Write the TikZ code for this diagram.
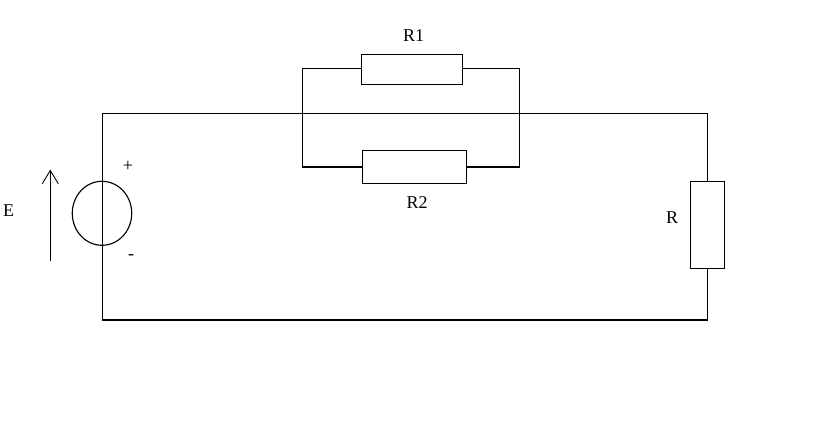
\documentclass[tikz,border=0pt]{standalone}
\usepackage{fontspec}
\setmainfont{Liberation Serif}
\usetikzlibrary{shapes.geometric, arrows.meta}
\tikzstyle{resistor} = [draw=black, line width=0.85pt, inner sep=0pt, outer sep=0pt]
\tikzstyle{source} = [ellipse, draw=black, line width=0.85pt, inner sep=0pt, outer sep=0pt, minimum width=44.6pt, minimum height=48pt]
\tikzstyle{wire} = [line width=0.85pt]
\tikzstyle{arrow} = [line width=0.85pt, -{Straight Barb[length=10pt, width=12pt, line width=0.7pt]}]
\tikzstyle{label} = [inner sep=0pt, font=\fontsize{13.5pt}{15pt}\selectfont]

\begin{document}
\begin{tikzpicture}[x=0.75pt, y=-0.75pt]
    \useasboundingbox (0,0) rectangle (814,443);
    % main loop
    \coordinate (topleft) at (102.3,113.3);
    \coordinate (topright) at (707.3,113.3);
    \coordinate (botright) at (707.3,320);
    \coordinate (botleft) at (102.3,320);
    \node[source] (E) at (102,213.3) {};
    \node[resistor, minimum width=25.5pt, minimum height=65.25pt] (R) at (707.3,224.8) {};
    \draw[wire] (botleft) -- (topleft) -- (topright) -- (R.north);
    \draw[wire] (R.south) -- (botright) -- (botleft);
    % parallel branch
    \coordinate (upleft) at (302.3,68.3);
    \coordinate (upright) at (519.3,68.3);
    \coordinate (lowleft) at (302.3,167);
    \coordinate (lowright) at (519.3,167);
    \node[resistor, minimum width=76pt, minimum height=22.3pt] (R1) at (412.2,69.2) {};
    \node[resistor, minimum width=78.2pt, minimum height=24.8pt] (R2) at (414.4,166.8) {};
    \draw[wire] (R1.west |- upleft) -- (upleft) -- (lowleft) -- (R2.west |- lowleft);
    \draw[wire] (R1.east |- upright) -- (upright) -- (lowright) -- (R2.east |- lowright);
    % voltage arrow
    \coordinate (arrowbot) at (50.3,260.7);
    \coordinate (arrowtop) at (50.3,169.5);
    \draw[arrow] (arrowbot) -- (arrowtop);
    % labels
    \node[label] (labelE) at (8.5,211) {E};
    \node[label] (plus) at (128,166) {+};
    \node[label] (minus) at (131,257) {-};
    \node[label] (labelR1) at (413.5,36) {R1};
    \node[label] (labelR2) at (417,203) {R2};
    \node[label] (labelR) at (672,218) {R};
\end{tikzpicture}
\end{document}
